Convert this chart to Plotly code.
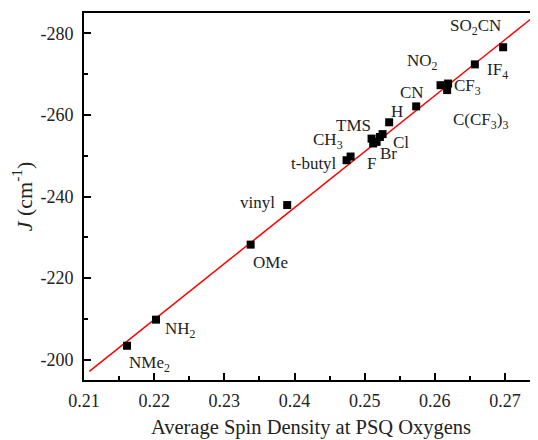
import plotly.graph_objects as go

# Data
labels = ["NMe<sub>2</sub>", "NH<sub>2</sub>", "OMe", "vinyl", "t-butyl", "CH<sub>3</sub>",
          "TMS", "F", "Br", "", "Cl", "H", "CN", "NO<sub>2</sub>", "CF<sub>3</sub>",
          "C(CF<sub>3</sub>)<sub>3</sub>", "IF<sub>4</sub>", "SO<sub>2</sub>CN"]
spin_density = [0.21613, 0.22026, 0.23375, 0.23896, 0.24742, 0.24799,
                0.25098, 0.25121, 0.25170, 0.25217, 0.25255, 0.25349, 0.25734,
                0.26081, 0.26189, 0.26175, 0.26570, 0.26973]
J_values = [-203.4, -209.8, -228.2, -237.9, -248.9, -249.8,
            -254.2, -253.0, -253.4, -254.6, -255.3, -258.2, -262.1,
            -267.3, -267.7, -266.1, -272.4, -276.6]

fit_x = [0.21076, 0.27467]
fit_y = [-197.1, -284.9]

x_ticks = [0.21, 0.22, 0.23, 0.24, 0.25, 0.26, 0.27]
x_tick_text = ["0.21", "0.22", "0.23", "0.24", "0.25", "0.26", "0.27"]
y_ticks = [-200, -220, -240, -260, -280]
y_tick_text = ["-200", "-220", "-240", "-260", "-280"]

# label placement offsets (pixels) relative to each point: (xshift, yshift, xanchor)
label_offsets = [
    (0, -18, "left"), (7, -10, "left"), (0, -18, "left"), (-10, 3, "right"),
    (-8, -3, "right"), (-6, 16, "right"), (1, 13, "right"), (5, -20, "right"),
    (1, -12, "left"), (0, 0, "left"), (8, -8, "left"), (0, 11, "left"),
    (10, 14, "right"), (-1, 23, "right"), (4, -3, "left"), (4, -31, "left"),
    (10, -7, "left"), (0, 20, "right"),
]

font_family = "Liberation Serif, Times New Roman, serif"

fig = go.Figure()
fig.add_trace(go.Scatter(x=fit_x, y=fit_y, mode="lines",
                         line=dict(color="#ff0000", width=1.5), showlegend=False))
fig.add_trace(go.Scatter(x=spin_density, y=J_values, mode="markers",
                         marker=dict(symbol="square", size=8, color="black"),
                         showlegend=False))

for lab, xv, yv, (dx, dy, xa) in zip(labels, spin_density, J_values, label_offsets):
    if not lab:
        continue
    fig.add_annotation(x=xv, y=yv, text=lab, showarrow=False,
                       xanchor=xa, yanchor="middle", xshift=dx, yshift=dy,
                       font=dict(family=font_family, size=17, color="#222"))

# page body has an 8px default margin, so the figure is sized to fit the window
fig.update_layout(
    width=530, height=432,
    margin=dict(l=76, r=0, t=5, b=60),
    plot_bgcolor="white", paper_bgcolor="white",
    font=dict(family=font_family, size=17, color="#222"),
    xaxis=dict(range=[0.21, 0.2747], tickvals=x_ticks, ticktext=x_tick_text,
               automargin=False,
               ticks="inside", ticklen=7, tickwidth=1.5, tickcolor="black",
               minor=dict(ticks="inside", ticklen=4, dtick=0.005, tick0=0.21,
                          tickcolor="black", tickwidth=1.5),
               showline=True, linecolor="black", linewidth=2, mirror=True,
               showgrid=False, zeroline=False,
               title=dict(text="Average Spin Density at PSQ Oxygens", standoff=10,
                          font=dict(size=20.5)),
               tickfont=dict(size=18), ticklabelstandoff=3),
    yaxis=dict(range=[-195, -285], tickvals=y_ticks, ticktext=y_tick_text,
               automargin=False,
               ticks="inside", ticklen=7, tickwidth=1.5, tickcolor="black",
               minor=dict(ticks="inside", ticklen=4, dtick=10, tick0=-200,
                          tickcolor="black", tickwidth=1.5),
               showline=True, linecolor="black", linewidth=2,
               showgrid=False, zeroline=False,
               title=dict(text="<i>J</i> (cm<sup>-1</sup>)", standoff=2,
                          font=dict(size=22)),
               tickfont=dict(size=18), ticklabelstandoff=5),
)

fig.write_html("out.html")
